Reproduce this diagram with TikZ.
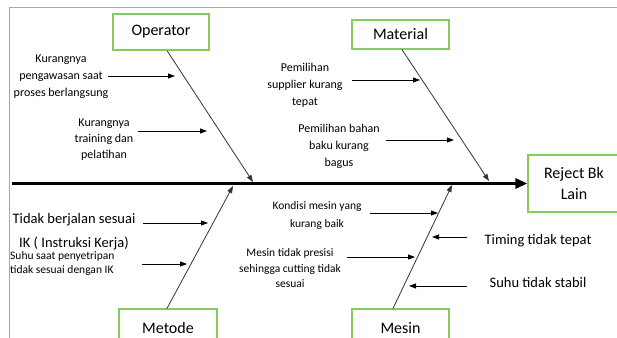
\documentclass[tikz,border=0pt]{standalone}
\usepackage{fontspec}
\setmainfont{Carlito}
\usetikzlibrary{arrows.meta}
\definecolor{boxgreen}{HTML}{84CC5C}
\definecolor{framegray}{HTML}{A8A8A8}
\begin{document}
\begin{tikzpicture}[x=1pt,y=-1pt,
 cause/.style={draw=boxgreen,line width=1.2pt,inner sep=0pt,align=center,font=\fontsize{16}{21}\selectfont},
 note/.style={align=center,inner sep=0pt,font=\fontsize{12}{17}\selectfont},
 big/.style={align=center,inner sep=0pt,font=\fontsize{14.5}{24}\selectfont},
 bone/.style={draw=black!80,line width=0.8pt,-{Triangle[length=7pt,width=5pt]}},
 sub/.style={draw=black,line width=0.8pt,-{Triangle[length=7pt,width=5pt]}},
]
\useasboundingbox (0,0) rectangle (617,337);
\clip (0,0) rectangle (617,337);
\draw[framegray,line width=1pt] (9,345) -- (9,8) -- (625,8);

% cause boxes
\node[cause,minimum width=96pt,minimum height=36pt] (op) at (161,32) {Operator};
\node[cause,minimum width=97pt,minimum height=29pt] (mat) at (400.5,34.5) {Material};
\node[cause,minimum width=92pt,minimum height=57pt] (rej) at (574,183.5) {Reject Bk\\Lain};
\node[cause,minimum width=98pt,minimum height=38pt] (met) at (168,328) {Metode};
\node[cause,minimum width=97pt,minimum height=38pt] (mes) at (400.5,328) {Mesin};

% spine
\coordinate (spS) at (12,183.5);
\draw[line width=3pt,-{Triangle[length=12pt,width=10pt]}] (spS) -- (rej.west);

% bones
\coordinate (opT) at (253,182);
\coordinate (matT) at (489,181);
\coordinate (metT) at (233,186);
\coordinate (mesT) at (452,185);
\draw[bone] ([xshift=6pt]op.south) -- (opT);
\draw[bone] ([xshift=1.5pt]mat.south) -- (matT);
\draw[bone] ([xshift=-1pt]met.north) -- (metT);
\draw[bone] ([xshift=-7.5pt]mes.north) -- (mesT);

% sub causes
\node[note] (n1) at (61,77) {Kurangnya\\pengawasan saat\\proses berlangsung};
\coordinate (a1s) at (108,76); \coordinate (a1e) at (175,76);
\draw[sub] (a1s) -- (a1e);

\node[note,font=\fontsize{12}{16}\selectfont] (n2) at (104,139.5) {Kurangnya\\training dan\\pelatihan};
\coordinate (a2s) at (138,131); \coordinate (a2e) at (207,131);
\draw[sub] (a2s) -- (a2e);

\node[note] (n3) at (305,85) {Pemilihan\\supplier kurang\\tepat};
\coordinate (a3s) at (352,80); \coordinate (a3e) at (420,80);
\draw[sub] (a3s) -- (a3e);

\node[note] (n4) at (339,146) {Pemilihan bahan\\baku kurang\\bagus};
\coordinate (a4s) at (386,140); \coordinate (a4e) at (454,140);
\draw[sub] (a4s) -- (a4e);

\node[big] (n5) at (74,232) {Tidak berjalan sesuai\\IK ( Instruksi Kerja)};
\coordinate (a5s) at (143,223); \coordinate (a5e) at (208,223);
\draw[sub] (a5s) -- (a5e);

\node[note,align=left,anchor=west,font=\fontsize{11.5}{14}\selectfont] (n6) at (10,263) {Suhu saat penyetripan\\tidak sesuai dengan IK};
\coordinate (a6s) at (142,264); \coordinate (a6e) at (187,264);
\draw[sub] (a6s) -- (a6e);

\node[note,font=\fontsize{11.5}{18}\selectfont] (n7) at (317,215) {Kondisi mesin yang\\kurang baik};
\coordinate (a7s) at (370,213); \coordinate (a7e) at (438,213);
\draw[sub] (a7s) -- (a7e);

\node[note,font=\fontsize{11.5}{15.5}\selectfont] (n8) at (290,268.5) {Mesin tidak presisi\\sehingga cutting tidak\\sesuai};
\coordinate (a8s) at (347,257); \coordinate (a8e) at (415,257);
\draw[sub] (a8s) -- (a8e);

\node[big] (n9) at (538,241) {Timing tidak tepat};
\coordinate (a9s) at (467,237); \coordinate (a9e) at (432,237);
\draw[sub] (a9s) -- (a9e);

\node[big] (n10) at (538,283) {Suhu tidak stabil};
\coordinate (a10s) at (467,286); \coordinate (a10e) at (409,286);
\draw[sub] (a10s) -- (a10e);
\end{tikzpicture}
\end{document}
